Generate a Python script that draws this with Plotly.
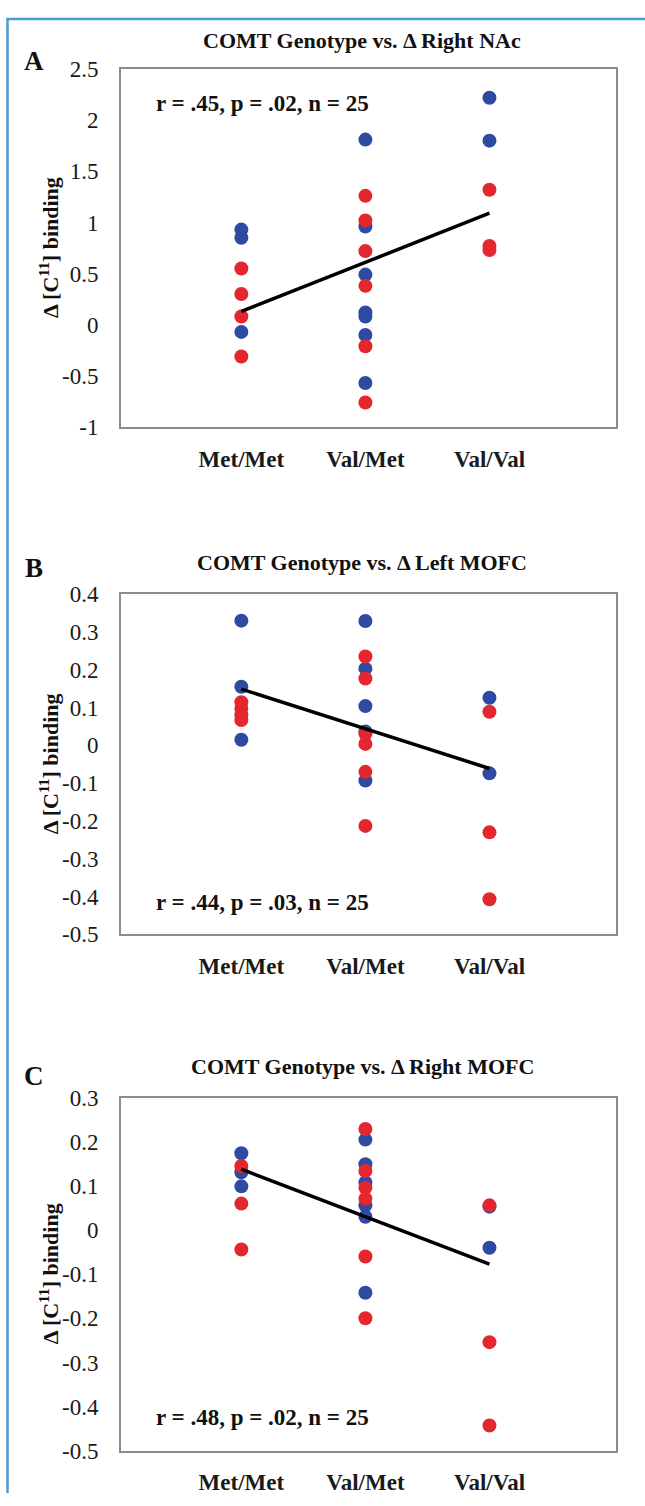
import plotly.graph_objects as go

# ---------------- data ----------------
genotypes = ["Met/Met", "Val/Met", "Val/Val"]
genotype_pos = [1, 2, 3]

# Panel A: COMT Genotype vs. Δ Right NAc
a_blue_x = [1, 1, 1, 2, 2, 2, 2, 2, 2, 2, 3, 3]
a_blue_y = [0.93, 0.85, -0.07, 1.81, 0.96, 0.49, 0.12, 0.08, -0.10, -0.57, 2.22, 1.80]
a_red_x = [1, 1, 1, 1, 2, 2, 2, 2, 2, 2, 3, 3, 3]
a_red_y = [0.55, 0.30, 0.08, -0.31, 1.26, 1.02, 0.72, 0.38, -0.21, -0.76, 1.32, 0.77, 0.73]
a_trend_y = [0.13, 1.09]
a_ticks = [-1, -0.5, 0, 0.5, 1, 1.5, 2, 2.5]
a_tick_text = ["-1", "-0.5", "0", "0.5", "1", "1.5", "2", "2.5"]

# Panel B: COMT Genotype vs. Δ Left MOFC
b_blue_x = [1, 1, 1, 2, 2, 2, 2, 2, 3, 3]
b_blue_y = [0.330, 0.155, 0.015, 0.329, 0.203, 0.104, 0.037, -0.093, 0.126, -0.074]
b_red_x = [1, 1, 1, 1, 2, 2, 2, 2, 2, 2, 3, 3, 3]
b_red_y = [0.114, 0.097, 0.080, 0.067, 0.235, 0.177, 0.031, 0.004, -0.070, -0.213, 0.089, -0.230, -0.407]
b_trend_y = [0.149, -0.061]
b_ticks = [-0.5, -0.4, -0.3, -0.2, -0.1, 0, 0.1, 0.2, 0.3, 0.4]
b_tick_text = ["-0.5", "-0.4", "-0.3", "-0.2", "-0.1", "0", "0.1", "0.2", "0.3", "0.4"]

# Panel C: COMT Genotype vs. Δ Right MOFC
c_blue_x = [1, 1, 1, 2, 2, 2, 2, 2, 2, 3, 3]
c_blue_y = [0.174, 0.131, 0.099, 0.205, 0.149, 0.108, 0.056, 0.030, -0.142, 0.053, -0.040]
c_red_x = [1, 1, 1, 2, 2, 2, 2, 2, 2, 3, 3, 3]
c_red_y = [0.145, 0.060, -0.044, 0.229, 0.134, 0.096, 0.071, -0.060, -0.200, 0.056, -0.254, -0.443]
c_trend_y = [0.138, -0.077]
c_ticks = [-0.5, -0.4, -0.3, -0.2, -0.1, 0, 0.1, 0.2, 0.3]
c_tick_text = ["-0.5", "-0.4", "-0.3", "-0.2", "-0.1", "0", "0.1", "0.2", "0.3"]

trend_x = [1, 3]

titles = ["COMT Genotype vs. \u0394 Right NAc",
          "COMT Genotype vs. \u0394 Left MOFC",
          "COMT Genotype vs. \u0394 Right MOFC"]
stats = ["r = .45, p = .02, n = 25",
         "r = .44, p = .03, n = 25",
         "r = .48, p = .02, n = 25"]
letters = ["A", "B", "C"]
y_ranges = [[-1, 2.5], [-0.5, 0.4], [-0.5, 0.3]]
y_tickvals = [a_ticks, b_ticks, c_ticks]
y_ticktext = [a_tick_text, b_tick_text, c_tick_text]
y_title = "\u0394 [C<sup>11</sup>] binding"

# ---------------- styling / layout ----------------
W, H = 645, 1506
BLUE = "#2f4aa3"
RED = "#e4262e"
FONT = "Liberation Serif"

def px_x(p):
    return p / W

def px_y(p):
    return 1 - p / H

boxes = [(58, 422), (592, 938), (1104, 1463)]
box_left, box_right = 121, 616
title_y = [29, 560, 1072]
letter_y = [50, 565, 1082]
stat_y = [93, 906, 1429]

fig = go.Figure()

panels = [
    (a_blue_x, a_blue_y, a_red_x, a_red_y, a_trend_y),
    (b_blue_x, b_blue_y, b_red_x, b_red_y, b_trend_y),
    (c_blue_x, c_blue_y, c_red_x, c_red_y, c_trend_y),
]

annotations = []
for i, (bx, by, rx, ry, ty) in enumerate(panels):
    xa = "x" if i == 0 else f"x{i+1}"
    ya = "y" if i == 0 else f"y{i+1}"
    fig.add_trace(go.Scatter(x=bx, y=by, mode="markers", xaxis=xa, yaxis=ya,
                             marker=dict(color=BLUE, size=14), showlegend=False, cliponaxis=False))
    fig.add_trace(go.Scatter(x=rx, y=ry, mode="markers", xaxis=xa, yaxis=ya,
                             marker=dict(color=RED, size=14), showlegend=False, cliponaxis=False))
    fig.add_trace(go.Scatter(x=trend_x, y=ty, mode="lines", xaxis=xa, yaxis=ya,
                             line=dict(color="black", width=3.5), showlegend=False))

    top, bottom = boxes[i]
    xkey = "xaxis" if i == 0 else f"xaxis{i+1}"
    ykey = "yaxis" if i == 0 else f"yaxis{i+1}"
    fig.layout[xkey] = dict(
        domain=[px_x(box_left), px_x(box_right)], range=[0.03, 4.02],
        anchor=ya, tickvals=genotype_pos, ticktext=genotypes,
        showgrid=False, zeroline=False, ticks="",
        showline=True, mirror=True, linecolor="#8c8c8c", linewidth=2,
        tickfont=dict(family=FONT, size=23, color="#1a1a1a", weight="bold"),
        ticklabelstandoff=10, fixedrange=True,
    )
    fig.layout[ykey] = dict(
        domain=[px_y(bottom), px_y(top)], range=y_ranges[i],
        tickvals=y_tickvals[i], ticktext=y_ticktext[i],
        anchor=xa, showgrid=False, zeroline=False, ticks="",
        showline=True, mirror=True, linecolor="#8c8c8c", linewidth=2,
        tickfont=dict(family=FONT, size=23, color="#1a1a1a"),
        ticklabelstandoff=16, fixedrange=True,
    )

    annotations.append(dict(text=titles[i], x=px_x(362), y=px_y(title_y[i]),
                            xref="paper", yref="paper", showarrow=False,
                            xanchor="center", yanchor="middle",
                            font=dict(family=FONT, size=22, color="#111111", weight="bold")))
    annotations.append(dict(text=letters[i], x=px_x(34), y=px_y(letter_y[i]),
                            xref="paper", yref="paper", showarrow=False,
                            xanchor="center", yanchor="middle",
                            font=dict(family=FONT, size=27, color="#111111", weight="bold")))
    annotations.append(dict(text=stats[i], x=px_x(262), y=px_y(stat_y[i]),
                            xref="paper", yref="paper", showarrow=False,
                            xanchor="center", yanchor="middle",
                            font=dict(family=FONT, size=23, color="#111111", weight="bold")))
    annotations.append(dict(text=y_title, x=px_x(49), y=px_y((top + bottom) / 2),
                            xref="paper", yref="paper", showarrow=False, textangle=-90,
                            xanchor="center", yanchor="middle",
                            font=dict(family=FONT, size=22, color="#111111", weight="bold")))

shapes = [
    dict(type="line", xref="paper", yref="paper", x0=px_x(7.5), x1=px_x(7.5),
         y0=px_y(6), y1=px_y(H), line=dict(color="#4a9ad4", width=2.5)),
    dict(type="line", xref="paper", yref="paper", x0=px_x(6.5), x1=px_x(W),
         y0=px_y(7), y1=px_y(7), line=dict(color="#4a9ad4", width=2.5)),
]

fig.update_layout(
    width=W, height=H,
    margin=dict(l=0, r=0, t=0, b=0),
    paper_bgcolor="white", plot_bgcolor="white",
    annotations=annotations, shapes=shapes,
    showlegend=False,
)

fig.write_html("out.html",
               config={"displayModeBar": False, "staticPlot": True},
               post_script="document.body.style.margin='0';document.body.style.overflow='hidden';")
